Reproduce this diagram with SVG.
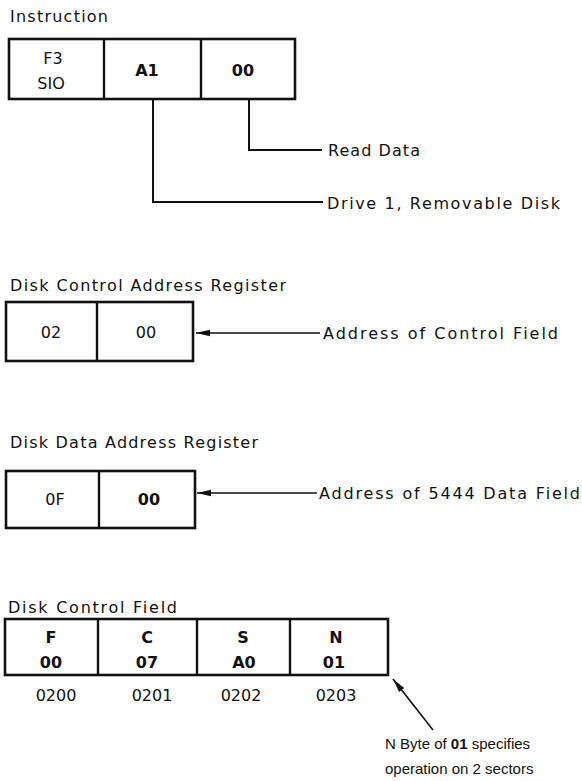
<svg xmlns="http://www.w3.org/2000/svg" width="582" height="781" viewBox="0 0 582 781">
<style>
.t{font-family:"DejaVu Sans","Liberation Sans",sans-serif;font-size:16px;fill:#111;}
.n{font-family:"Liberation Sans",Arial,sans-serif;font-size:15px;fill:#111;}
.v{font-family:"DejaVu Sans","Liberation Sans",sans-serif;font-size:16px;fill:#111;text-anchor:middle;}
.b{font-weight:bold;}
.box{fill:#fff;stroke:#111;stroke-width:2.6;}
.div{stroke:#111;stroke-width:2.4;fill:none;}
.con{stroke:#111;stroke-width:2;fill:none;}
.arr{stroke:#111;stroke-width:1.6;fill:none;}
</style>
<defs>
<marker id="ah" viewBox="0 0 14 8" refX="0" refY="4" markerWidth="14" markerHeight="8" markerUnits="userSpaceOnUse" orient="auto">
<path d="M0,4 L14,0.8 L14,7.2 Z" fill="#111"/>
</marker>
</defs>
<rect width="582" height="781" fill="#fff"/>

<g id="instruction">
<text class="t" x="10" y="22" textLength="98" lengthAdjust="spacing">Instruction</text>
<rect class="box" x="9" y="39" width="286" height="60"/>
<line class="div" x1="104" y1="39" x2="104" y2="99"/>
<line class="div" x1="201" y1="39" x2="201" y2="99"/>
<text class="v" x="53" y="64">F3</text>
<text class="v" x="51" y="89">SIO</text>
<text class="v b" x="147" y="76">A1</text>
<text class="v b" x="243" y="76">00</text>
</g>

<g id="read-data">
<text class="t" x="328" y="156" textLength="92" lengthAdjust="spacing">Read Data</text>
</g>
<g id="drive">
<text class="t" x="327" y="209" textLength="233" lengthAdjust="spacing">Drive 1, Removable Disk</text>
</g>

<g id="dcar">
<text class="t" x="10" y="291" textLength="276" lengthAdjust="spacing">Disk Control Address Register</text>
<rect class="box" x="6" y="302" width="187" height="59"/>
<line class="div" x1="97" y1="302" x2="97" y2="361"/>
<text class="v" x="51" y="338">02</text>
<text class="v" x="146" y="338">00</text>
</g>
<g id="dcar-label">
<text class="t" x="323" y="339" textLength="235" lengthAdjust="spacing">Address of Control Field</text>
</g>

<g id="ddar">
<text class="t" x="10" y="448" textLength="248" lengthAdjust="spacing">Disk Data Address Register</text>
<rect class="box" x="6" y="471" width="189" height="57"/>
<line class="div" x1="99" y1="471" x2="99" y2="528"/>
<text class="v" x="55" y="505">0F</text>
<text class="v b" x="149" y="505">00</text>
</g>
<g id="ddar-label">
<text class="t" x="319" y="499" textLength="261" lengthAdjust="spacing">Address of 5444 Data Field</text>
</g>

<g id="dcf">
<text class="t" x="8" y="613" textLength="169" lengthAdjust="spacing">Disk Control Field</text>
<rect class="box" x="5" y="619" width="383" height="56"/>
<line class="div" x1="98" y1="619" x2="98" y2="675"/>
<line class="div" x1="197" y1="619" x2="197" y2="675"/>
<line class="div" x1="290" y1="619" x2="290" y2="675"/>
<text class="v b" x="51" y="643">F</text>
<text class="v b" x="51" y="668">00</text>
<text class="v b" x="147" y="643">C</text>
<text class="v b" x="147" y="668">07</text>
<text class="v b" x="243" y="643">S</text>
<text class="v b" x="244" y="668">A0</text>
<text class="v b" x="336" y="643">N</text>
<text class="v b" x="334" y="668">01</text>
<text class="v" x="56" y="701">0200</text>
<text class="v" x="152" y="701">0201</text>
<text class="v" x="241" y="701">0202</text>
<text class="v" x="336" y="701">0203</text>
</g>

<g id="note">
<text class="n" x="385" y="749">N Byte of <tspan class="b">01</tspan> specifies</text>
<text class="n" x="385" y="774">operation on 2 sectors</text>
</g>

<g id="connectors">
<polyline class="con" points="249,99 249,150 322,150"/>
<polyline class="con" points="153,99 153,202 323,202"/>
<line class="arr" x1="196" y1="333" x2="320" y2="333" marker-start="url(#ah)"/>
<line class="arr" x1="197" y1="493" x2="317" y2="493" marker-start="url(#ah)"/>
<line class="arr" x1="393" y1="679" x2="433" y2="730" marker-start="url(#ah)"/>
</g>
</svg>
